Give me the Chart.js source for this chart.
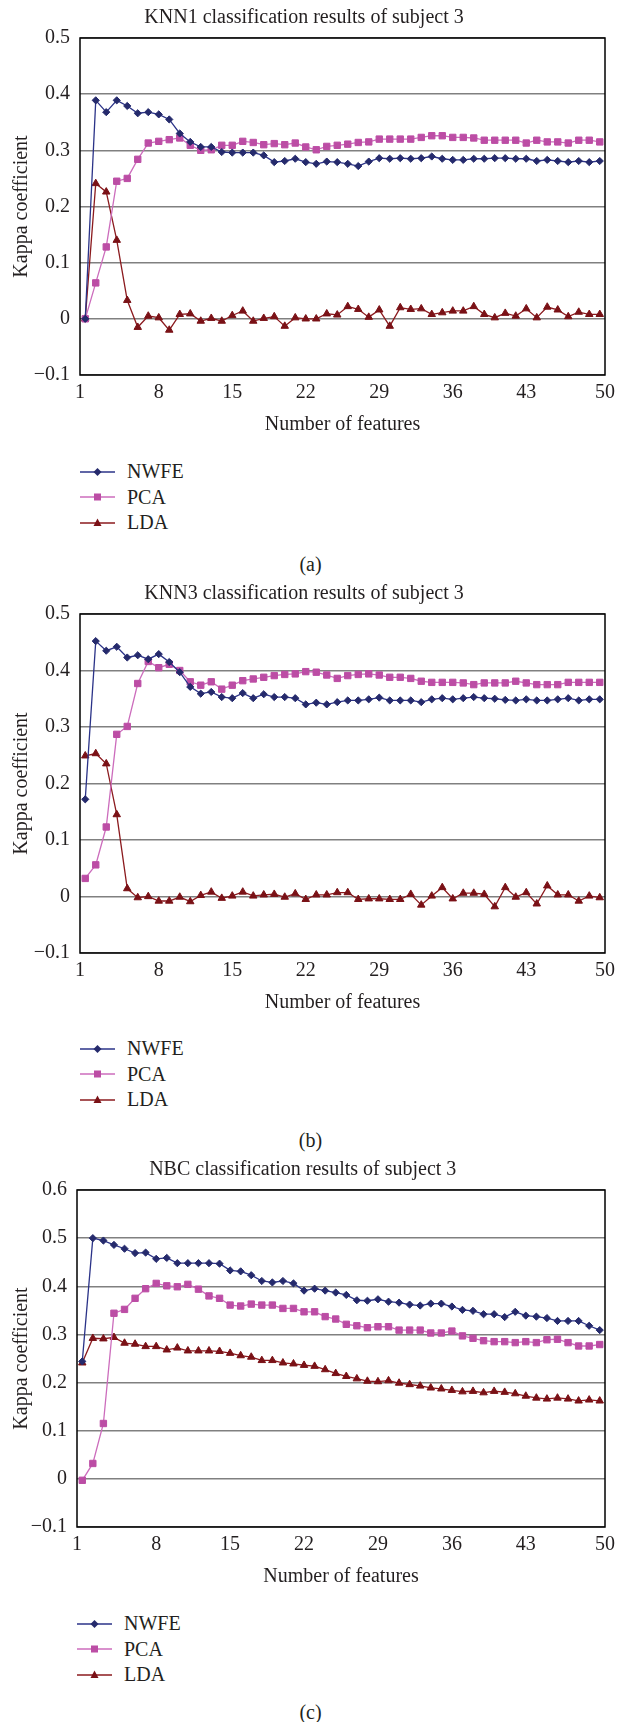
<!DOCTYPE html>
<html>
<head>
<meta charset="utf-8">
<script src="https://cdn.jsdelivr.net/npm/chart.js@4.4.1/dist/chart.umd.min.js"></script>
<style>
body { margin: 0; background: #fff; }
#page { position: relative; width: 621px; height: 1722px; font-family: "Liberation Serif", "DejaVu Serif", serif; color: #231f20; overflow: hidden; }
#page canvas { position: absolute; left: 0; }
.legend { position: absolute; font-size: 20px; }
.legend div { height: 25.5px; display: flex; align-items: center; }
.legend svg { margin-right: 12px; }
.caption { position: absolute; left: 0; width: 621px; text-align: center; font-size: 20px; line-height: 24px; }
</style>
</head>
<body>
<div id="page">
  <canvas id="chartA" width="621" height="440" style="top:0px"></canvas>
  <div class="legend" id="legendA" style="left:80px; top:459px"></div>
  <div class="caption" style="top:552px">(a)</div>

  <canvas id="chartB" width="621" height="442" style="top:576px"></canvas>
  <div class="legend" id="legendB" style="left:80px; top:1036px"></div>
  <div class="caption" style="top:1128px">(b)</div>

  <canvas id="chartC" width="621" height="440" style="top:1152px"></canvas>
  <div class="legend" id="legendC" style="left:77px; top:1611px"></div>
  <div class="caption" style="top:1700px">(c)</div>
</div>
<script>
// number of features 1..50
const features = Array.from({length: 50}, (_, i) => i + 1);
// first/last labels sit on the plot edges, like the original
const xTickValues = [0.5, 8, 15, 22, 29, 36, 43, 50.5];
const xTickLabels = ['1', '8', '15', '22', '29', '36', '43', '50'];
const seriesNames = ['NWFE', 'PCA', 'LDA'];

// (a) KNN1
const knn1NWFE = [0.000, 0.389, 0.368, 0.389, 0.379, 0.366, 0.368, 0.364, 0.355, 0.330,
  0.315, 0.306, 0.306, 0.297, 0.296, 0.296, 0.296, 0.291, 0.279, 0.281,
  0.285, 0.279, 0.276, 0.280, 0.279, 0.276, 0.272, 0.280, 0.286, 0.285,
  0.286, 0.285, 0.286, 0.289, 0.285, 0.283, 0.283, 0.285, 0.285, 0.286,
  0.286, 0.285, 0.285, 0.281, 0.283, 0.281, 0.279, 0.281, 0.279, 0.281];
const knn1PCA = [0.000, 0.064, 0.128, 0.245, 0.250, 0.284, 0.313, 0.316, 0.319, 0.322,
  0.309, 0.300, 0.301, 0.309, 0.309, 0.316, 0.314, 0.310, 0.312, 0.310,
  0.313, 0.306, 0.301, 0.307, 0.309, 0.311, 0.314, 0.315, 0.320, 0.320,
  0.320, 0.320, 0.323, 0.326, 0.326, 0.323, 0.323, 0.322, 0.318, 0.318,
  0.318, 0.318, 0.313, 0.318, 0.315, 0.315, 0.313, 0.318, 0.318, 0.315];
const knn1LDA = [0.000, 0.241, 0.226, 0.140, 0.033, -0.015, 0.005, 0.002, -0.020, 0.008,
  0.009, -0.004, 0.001, -0.004, 0.006, 0.014, -0.004, 0.001, 0.004, -0.013,
  0.002, 0.000, 0.000, 0.009, 0.007, 0.022, 0.017, 0.003, 0.016, -0.013,
  0.020, 0.017, 0.018, 0.008, 0.011, 0.014, 0.014, 0.022, 0.008, 0.002,
  0.010, 0.005, 0.018, 0.002, 0.021, 0.016, 0.004, 0.012, 0.008, 0.008];

// (b) KNN3
const knn3NWFE = [0.172, 0.452, 0.435, 0.442, 0.423, 0.427, 0.420, 0.429, 0.415, 0.397,
  0.371, 0.359, 0.362, 0.353, 0.351, 0.360, 0.351, 0.358, 0.353, 0.353,
  0.351, 0.340, 0.343, 0.340, 0.344, 0.347, 0.347, 0.349, 0.352, 0.347,
  0.347, 0.347, 0.344, 0.349, 0.351, 0.349, 0.351, 0.353, 0.351, 0.350,
  0.348, 0.347, 0.349, 0.347, 0.347, 0.349, 0.351, 0.347, 0.349, 0.349];
const knn3PCA = [0.032, 0.056, 0.123, 0.287, 0.301, 0.377, 0.416, 0.405, 0.411, 0.400,
  0.380, 0.374, 0.380, 0.367, 0.374, 0.382, 0.385, 0.388, 0.391, 0.393,
  0.394, 0.398, 0.397, 0.392, 0.386, 0.391, 0.393, 0.394, 0.392, 0.388,
  0.388, 0.386, 0.381, 0.379, 0.379, 0.379, 0.378, 0.375, 0.378, 0.378,
  0.378, 0.381, 0.378, 0.375, 0.375, 0.375, 0.379, 0.379, 0.379, 0.379];
const knn3LDA = [0.249, 0.253, 0.235, 0.145, 0.014, -0.002, 0.000, -0.008, -0.008, -0.001,
  -0.009, 0.002, 0.008, -0.003, 0.001, 0.008, 0.001, 0.003, 0.004, -0.001,
  0.005, -0.005, 0.003, 0.003, 0.007, 0.007, -0.005, -0.004, -0.004, -0.005,
  -0.005, 0.004, -0.015, 0.001, 0.016, -0.004, 0.006, 0.006, 0.004, -0.018,
  0.016, -0.001, 0.007, -0.013, 0.019, 0.003, 0.003, -0.008, 0.001, -0.002];

// (c) NBC
const nbcNWFE = [0.244, 0.500, 0.495, 0.486, 0.478, 0.469, 0.470, 0.457, 0.459, 0.448,
  0.448, 0.448, 0.448, 0.447, 0.433, 0.431, 0.423, 0.411, 0.408, 0.411,
  0.406, 0.391, 0.395, 0.391, 0.387, 0.382, 0.371, 0.370, 0.373, 0.368,
  0.366, 0.362, 0.360, 0.364, 0.364, 0.358, 0.351, 0.349, 0.342, 0.342,
  0.336, 0.347, 0.339, 0.337, 0.334, 0.328, 0.328, 0.328, 0.318, 0.309];
const nbcPCA = [-0.003, 0.032, 0.115, 0.344, 0.352, 0.375, 0.395, 0.406, 0.401, 0.399,
  0.404, 0.394, 0.380, 0.375, 0.361, 0.359, 0.363, 0.361, 0.361, 0.354,
  0.354, 0.347, 0.347, 0.337, 0.332, 0.321, 0.318, 0.314, 0.316, 0.316,
  0.309, 0.309, 0.309, 0.303, 0.303, 0.307, 0.297, 0.292, 0.287, 0.285,
  0.285, 0.283, 0.285, 0.283, 0.289, 0.290, 0.283, 0.276, 0.276, 0.279];
const nbcLDA = [0.241, 0.292, 0.291, 0.294, 0.282, 0.280, 0.275, 0.275, 0.268, 0.272,
  0.266, 0.266, 0.266, 0.265, 0.261, 0.256, 0.253, 0.246, 0.246, 0.241,
  0.239, 0.236, 0.234, 0.227, 0.219, 0.213, 0.208, 0.203, 0.202, 0.204,
  0.199, 0.196, 0.193, 0.189, 0.187, 0.184, 0.181, 0.182, 0.179, 0.182,
  0.180, 0.177, 0.172, 0.168, 0.166, 0.168, 0.166, 0.162, 0.164, 0.162];

const ink = '#231f20';
const fontFamily = '"Liberation Serif", "DejaVu Serif", serif';
const styles = [
  {line: '#2b3388', mark: '#252a6c', shape: 'rectRot', r: 3.6},
  {line: '#cc6cbc', mark: '#bc4da5', shape: 'rect', r: 4.5},
  {line: '#8b1a1e', mark: '#7a1116', shape: 'triangle', r: 4.3}
];

// black box round the plot area
const frame = {
  id: 'frame',
  beforeDatasetsDraw(chart) {
    const {ctx, chartArea: a} = chart;
    ctx.save();
    ctx.strokeStyle = '#000';
    ctx.lineWidth = 1.5;
    ctx.strokeRect(a.left, a.top, a.right - a.left, a.bottom - a.top);
    ctx.restore();
  }
};

function fmtY(v) {
  const r = Math.round(v * 10) / 10;
  return r < 0 ? '\u2212' + Math.abs(r) : String(r);
}

function makeChart(id, title, series, yMax, axisW, padRight) {
  const font = {family: fontFamily, size: 20};
  new Chart(document.getElementById(id), {
    type: 'line',
    data: {
      labels: features,
      datasets: series.map((d, i) => ({
        label: seriesNames[i],
        data: d,
        borderColor: styles[i].line,
        borderWidth: 1.3,
        pointStyle: styles[i].shape,
        pointRadius: styles[i].r,
        pointBackgroundColor: styles[i].mark,
        pointBorderColor: styles[i].mark,
        pointBorderWidth: 1,
        tension: 0
      }))
    },
    options: {
      responsive: false,
      animation: false,
      layout: {padding: {left: 0, right: padRight, top: 0, bottom: 0}},
      plugins: {
        legend: {display: false},
        tooltip: {enabled: false},
        title: {display: true, text: title, color: ink, font: {family: fontFamily, size: 20, weight: 'normal'},
          padding: {top: 6, bottom: 8}}
      },
      scales: {
        x: {
          type: 'linear', min: 0.5, max: 50.5,
          grid: {display: false, drawTicks: false},
          border: {display: false},
          afterBuildTicks: s => { s.ticks = xTickValues.map(v => ({value: v})); },
          ticks: {autoSkip: false, maxRotation: 0, padding: 6, color: ink, font: font,
            callback: (v, i) => xTickLabels[i]},
          title: {display: true, text: 'Number of features', color: ink, font: font, padding: {top: 0, bottom: 3}},
          afterFit: s => { s.height = 65; }
        },
        y: {
          min: -0.1, max: yMax,
          grid: {color: '#808080', lineWidth: 1.5, drawTicks: false},
          border: {display: false},
          ticks: {stepSize: 0.1, padding: 10, color: ink, font: font, callback: fmtY},
          title: {display: true, text: 'Kappa coefficient', color: ink, font: font, padding: {top: 10, bottom: 0}},
          afterFit: s => { s.width = axisW; }
        }
      }
    },
    plugins: [frame]
  });
}

function shapeSvg(i) {
  const s = styles[i];
  let m = '';
  if (s.shape === 'rectRot') m = '<polygon points="17.5,3 21.5,7 17.5,11 13.5,7" fill="' + s.mark + '"/>';
  else if (s.shape === 'rect') m = '<rect x="14" y="3.5" width="7" height="7" fill="' + s.mark + '"/>';
  else m = '<polygon points="17.5,2.5 21.5,10 13.5,10" fill="' + s.mark + '"/>';
  return '<svg width="35" height="14"><line x1="0" y1="7" x2="35" y2="7" stroke="' + s.line + '" stroke-width="1.5"/>' + m + '</svg>';
}

function makeLegend(id) {
  document.getElementById(id).innerHTML = seriesNames
    .map((n, i) => '<div>' + shapeSvg(i) + '<span>' + n + '</span></div>').join('');
}

makeChart('chartA', 'KNN1 classification results of subject 3', [knn1NWFE, knn1PCA, knn1LDA], 0.5, 80, 13);
makeChart('chartB', 'KNN3 classification results of subject 3', [knn3NWFE, knn3PCA, knn3LDA], 0.5, 80, 13);
makeChart('chartC', 'NBC classification results of subject 3', [nbcNWFE, nbcPCA, nbcLDA], 0.6, 77, 15.5);
makeLegend('legendA');
makeLegend('legendB');
makeLegend('legendC');
</script>
</body>
</html>
